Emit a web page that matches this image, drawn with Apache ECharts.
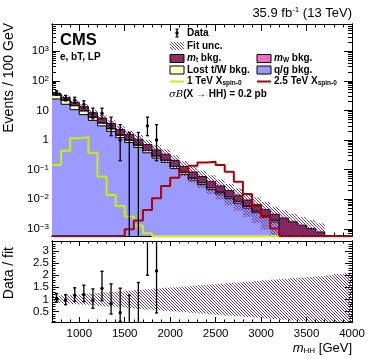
<!DOCTYPE html>
<html>
<head>
<meta charset="utf-8">
<script src="https://cdn.jsdelivr.net/npm/echarts@6/dist/echarts.min.js"></script>
<style>
  html, body { margin: 0; padding: 0; background: #fff; }
  #chart { width: 374px; height: 359px; }
</style>
</head>
<body>
<div id="chart"></div>
<script>
// bin low edges, 100 GeV bins
const binLow = [700, 800, 900, 1000, 1100, 1200, 1300, 1400, 1500, 1600, 1700, 1800, 1900, 2000, 2100, 2200,
  2300, 2400, 2500, 2600, 2700, 2800, 2900, 3000, 3100, 3200, 3300, 3400, 3500, 3600, 3700, 3800, 3900]
const binWidth = 100
const xMin = 700
const xMax = 4000
const xTickLabels = [1000, 1500, 2000, 2500, 3000, 3500, 4000]

// backgrounds (events / bin), stacked in this order
const qgBkg = [24.3, 16.1, 10.6, 7.2, 4.6, 3.0, 1.95, 1.2, 0.82, 0.56, 0.37, 0.245, 0.175, 0.108, 0.068, 0.044,
  0.031, 0.021, 0.015, 0.0104, 0.0073, 0.0050, 0.0035, 0.0024, 0.0017, 0, 0, 0, 0, 0, 0, 0, 0]
const lostBkg = [8.8, 5.9, 3.8, 2.4, 1.25, 0.72, 0.43, 0.25, 0.16, 0.105, 0.067, 0.043, 0.03, 0.018, 0.011, 0.007,
  0.0048, 0.0032, 0.0022, 0.0015, 0.001, 0.0007, 0.00048, 0.00032, 0.00022, 0.00016, 0.00012, 0.0001, 0.00008, 0.00006, 0, 0, 0]
const mwBkg = [0.3, 0.2, 0.14, 0.1, 0.06, 0.04, 0.026, 0.017, 0.011, 0.008, 0.005, 0.0035, 0.0025, 0.0015, 0.001, 0.0006,
  0.0004, 0.0003, 0.0002, 0.00015, 0.0001, 0.00007, 0.00005, 0.00003, 0.00002, 0, 0, 0, 0, 0, 0, 0, 0]
const mtBkg = [3.8, 4.7, 4.26, 3.6, 2.39, 1.74, 1.19, 0.79, 0.54, 0.387, 0.258, 0.168, 0.122, 0.0775, 0.048, 0.0314,
  0.0218, 0.0155, 0.0106, 0.0075, 0.0052, 0.0036, 0.0025, 0.00175, 0.00116, 0.00214, 0.0016, 0.00122, 0.00094, 0.00072, 0, 0, 0]
// relative fit uncertainty
const fitUnc = [0.15, 0.17, 0.2, 0.22, 0.25, 0.28, 0.3, 0.33, 0.36, 0.39, 0.42, 0.45, 0.48, 0.5, 0.53, 0.56,
  0.59, 0.62, 0.65, 0.68, 0.7, 0.73, 0.76, 0.79, 0.82, 0.85, 0.88, 0.9, 0.93, 0.96, 1.0, 1.05, 1.1]

// signals
const sig1TeV = [0.143, 0.435, 1.14, 1.23, 0.37, 0.058, 0.0139, 0.0059, 0.0026, 0.0013, 0.0007, 0, 0, 0, 0, 0,
  0, 0, 0, 0, 0, 0, 0, 0, 0, 0, 0, 0, 0, 0, 0, 0, 0]
const sig25TeV = [0, 0, 0, 0, 0, 0, 0, 0, 0.00096, 0.0019, 0.0043, 0.0108, 0.028, 0.053, 0.087, 0.135,
  0.172, 0.185, 0.143, 0.085, 0.039, 0.015, 0.0059, 0.0025, 0.00103, 0, 0, 0, 0, 0, 0, 0, 0]

// data (first 12 bins)
const dataCounts = [39, 26, 22, 16, 8, 8, 3, 1, 0, 0, 3, 1]
const dataErrUp = [7.3, 6.2, 5.8, 5.1, 3.9, 3.9, 2.9, 2.3, 1.8, 1.8, 2.9, 2.3]
const dataErrDown = [6.2, 5.1, 4.7, 4.0, 2.8, 2.8, 1.6, 0.8, 0, 0, 1.6, 0.8]

const yMajorTicks = [0.001, 0.01, 0.1, 1, 10, 100, 1000]
const yTickLabels = ['10{sup|−3}', '10{sup|−2}', '10{sup|−1}', '1', '10', '10{sup|2}', '10{sup|3}']
const ratioTicks = [0.5, 1, 1.5, 2, 2.5, 3]
const ratioTickLabels = ['0.5', '1', '1.5', '2', '2.5', '3']

const yMinVal = 5.7e-4
const yMaxVal = 8300
const rMin = 0.06
const rMax = 3.42

const FONT = '"Liberation Sans", Arial, Helvetica, sans-serif'
const chart = echarts.init(document.getElementById('chart'))

// hatch pattern for the fit uncertainty
function makeHatch() {
  const c = document.createElement('canvas')
  c.width = 3
  c.height = 3
  const g = c.getContext('2d')
  g.strokeStyle = 'rgba(85, 25, 95, 0.85)'
  g.lineWidth = 1
  g.beginPath()
  g.moveTo(0, 0); g.lineTo(3, 3)
  g.moveTo(-1, 2); g.lineTo(1, 4)
  g.moveTo(2, -1); g.lineTo(4, 1)
  g.stroke()
  return c
}
const hatch = { image: makeHatch(), repeat: 'repeat' }

const floorVal = 1e-7
function stepData(vals, zeroTo) {
  const out = binLow.map((x, i) => [x, vals[i] > 0 ? vals[i] : zeroTo])
  const last = vals[vals.length - 1]
  out.push([xMax, last > 0 ? last : zeroTo])
  return out
}

// cumulative stack (log axis -> stacked by hand, drawn from the top down)
const cumQg = qgBkg.slice()
const cumLost = cumQg.map((v, i) => v + lostBkg[i])
const cumMw = cumLost.map((v, i) => v + mwBkg[i])
const total = cumMw.map((v, i) => v + mtBkg[i])

const bandTop = binLow.map((x, i) => [x, x + binWidth, total[i] * (1 - fitUnc[i]), total[i] * (1 + fitUnc[i])])
  .filter((d, i) => total[i] > 0)
const bandRatio = binLow.map((x, i) => [x, x + binWidth, 1 - fitUnc[i], 1 + fitUnc[i]])

// minor ticks
const xMinor = binLow.concat([xMax])
const yMinor = []
for (let e = -4; e <= 3; e++) {
  for (let k = 2; k <= 9; k++) {
    const v = k * Math.pow(10, e)
    if (v > yMinVal && v < yMaxVal) yMinor.push(v)
  }
}
const rMinor = []
for (let k = 1; k <= 34; k++) rMinor.push(k / 10)

const dataPts = dataCounts.map((n, i) => [binLow[i] + binWidth / 2, n, Math.max(n - dataErrDown[i], yMinVal), n + dataErrUp[i]])
const ratioPts = dataCounts.map((n, i) => [binLow[i] + binWidth / 2, n / total[i],
  Math.max((n - dataErrDown[i]) / total[i], rMin), Math.min((n + dataErrUp[i]) / total[i], rMax)])

function makeErrRender(lo, hi) {
  return function (params, api) {
    const x = api.value(0)
    const y = api.value(1)
    const top = api.coord([x, api.value(3)])
    const bot = api.coord([x, api.value(2)])
    const st = { stroke: '#000', lineWidth: 1.3 }
    const children = [
      { type: 'line', shape: { x1: top[0], y1: top[1], x2: bot[0], y2: bot[1] }, style: st }
    ]
    if (api.value(3) < hi) children.push({ type: 'line', shape: { x1: top[0] - 1.6, y1: top[1], x2: top[0] + 1.6, y2: top[1] }, style: st })
    if (api.value(2) > lo) children.push({ type: 'line', shape: { x1: bot[0] - 1.6, y1: bot[1], x2: bot[0] + 1.6, y2: bot[1] }, style: st })
    if (y > lo && y < hi) {
      const p = api.coord([x, y])
      children.push({ type: 'circle', shape: { cx: p[0], cy: p[1], r: 1.7 }, style: { fill: '#000' } })
    }
    return { type: 'group', children: children }
  }
}

function makeBandRender(lo, hi) {
  return function (params, api) {
    const a = api.coord([api.value(0), Math.min(api.value(3), hi)])
    const b = api.coord([api.value(1), Math.max(api.value(2), lo)])
    return {
      type: 'rect',
      shape: { x: a[0], y: a[1], width: b[0] - a[0], height: b[1] - a[1] },
      style: { fill: hatch }
    }
  }
}

function axisBase(gridIndex, position, type, min, max) {
  return {
    gridIndex: gridIndex, position: position, type: type, min: min, max: max,
    axisLine: { show: true, onZero: false, lineStyle: { color: '#000', width: 1 } },
    splitLine: { show: false },
    axisLabel: { show: false },
    axisTick: { show: false }
  }
}
function tickAxis(gridIndex, position, type, min, max, ticks, len) {
  const a = axisBase(gridIndex, position, type, min, max)
  a.axisTick = { show: true, inside: true, length: len, customValues: ticks, lineStyle: { color: '#000', width: 1 } }
  return a
}

const labelStyle = { color: '#000', fontFamily: FONT, fontSize: 11.5 }

const xAxes = [
  tickAxis(0, 'bottom', 'value', xMin, xMax, xTickLabels, 7),
  tickAxis(0, 'bottom', 'value', xMin, xMax, xMinor, 3.5),
  tickAxis(0, 'top', 'value', xMin, xMax, xTickLabels, 7),
  tickAxis(0, 'top', 'value', xMin, xMax, xMinor, 3.5),
  tickAxis(1, 'bottom', 'value', xMin, xMax, xTickLabels, 5),
  tickAxis(1, 'bottom', 'value', xMin, xMax, xMinor, 2.5),
  tickAxis(1, 'top', 'value', xMin, xMax, xTickLabels, 5),
  tickAxis(1, 'top', 'value', xMin, xMax, xMinor, 2.5)
]
xAxes[4].axisLabel = Object.assign({
  show: true, customValues: xTickLabels, margin: 6,
  formatter: v => String(v)
}, labelStyle)

const yAxes = [
  tickAxis(0, 'left', 'log', yMinVal, yMaxVal, yMajorTicks, 8),
  tickAxis(0, 'left', 'log', yMinVal, yMaxVal, yMinor, 4),
  tickAxis(0, 'right', 'log', yMinVal, yMaxVal, yMajorTicks, 8),
  tickAxis(0, 'right', 'log', yMinVal, yMaxVal, yMinor, 4),
  tickAxis(1, 'left', 'value', rMin, rMax, ratioTicks, 7),
  tickAxis(1, 'left', 'value', rMin, rMax, rMinor, 3.5),
  tickAxis(1, 'right', 'value', rMin, rMax, ratioTicks, 7),
  tickAxis(1, 'right', 'value', rMin, rMax, rMinor, 3.5)
]
for (let i = 0; i < 4; i++) yAxes[i].logBase = 10
yAxes[0].axisLabel = Object.assign({
  show: true, customValues: yMajorTicks, margin: 3,
  formatter: function (v) {
    const i = yMajorTicks.findIndex(t => Math.abs(t - v) / t < 1e-6)
    return i >= 0 ? yTickLabels[i] : ''
  },
  rich: { sup: { fontSize: 8, fontFamily: FONT, verticalAlign: 'top', lineHeight: 10, padding: [0, 0, 5, 0] } }
}, labelStyle)
yAxes[4].axisLabel = Object.assign({
  show: true, customValues: ratioTicks, margin: 3,
  formatter: function (v) {
    const i = ratioTicks.findIndex(t => Math.abs(t - v) < 1e-6)
    return i >= 0 ? ratioTickLabels[i] : ''
  }
}, labelStyle)

function histArea(name, vals, color, z) {
  return {
    name: name, type: 'line', step: 'end', xAxisIndex: 0, yAxisIndex: 0,
    data: stepData(vals, floorVal), showSymbol: false, symbol: 'none',
    lineStyle: { color: '#000', width: 1 },
    areaStyle: { color: color, opacity: 1, origin: 'start' },
    z: z
  }
}

const series = [
  histArea('mt bkg.', total, '#972c63', 2),
  histArea('mW bkg.', cumMw, '#ff66cc', 2),
  histArea('Lost t/W bkg.', cumLost, '#ffffc8', 2),
  histArea('q/g bkg.', cumQg, '#9a9aff', 2),
  {
    name: 'Fit unc.', type: 'custom', xAxisIndex: 0, yAxisIndex: 0,
    renderItem: makeBandRender(yMinVal, yMaxVal), data: bandTop, z: 3
  },
  {
    name: '1 TeV', type: 'line', step: 'end', xAxisIndex: 0, yAxisIndex: 0,
    data: stepData(sig1TeV, yMinVal), showSymbol: false, symbol: 'none',
    lineStyle: { color: '#ccf000', width: 2 }, z: 4
  },
  {
    name: '2.5 TeV', type: 'line', step: 'end', xAxisIndex: 0, yAxisIndex: 0,
    data: stepData(sig25TeV, yMinVal), showSymbol: false, symbol: 'none',
    lineStyle: { color: '#ad0000', width: 2 }, z: 5
  },
  {
    name: 'Data', type: 'custom', xAxisIndex: 0, yAxisIndex: 0,
    renderItem: makeErrRender(yMinVal, yMaxVal), data: dataPts, z: 6
  },
  // ratio panel
  {
    name: 'Fit unc. ratio', type: 'custom', xAxisIndex: 4, yAxisIndex: 4,
    renderItem: makeBandRender(rMin, rMax), data: bandRatio, z: 3
  },
  {
    name: 'Data / fit', type: 'custom', xAxisIndex: 4, yAxisIndex: 4,
    renderItem: makeErrRender(rMin, rMax), data: ratioPts, z: 6
  }
]

const tFont = (w, s) => (w ? 'bold ' : '') + s + 'px ' + FONT
const rowY = [33, 46, 58.5, 70, 81.5, 94]
const c1 = 170, c2 = 257, bw = 14, bh = 8
const legRich = {
  it: { fontStyle: 'italic', fontWeight: 'bold', fontSize: 10, fontFamily: FONT },
  sub: { fontSize: 6.5, fontWeight: 'bold', fontFamily: FONT, verticalAlign: 'bottom', padding: [4, 0, 0, 0] },
  sig: { fontStyle: 'italic', fontSize: 10, fontFamily: 'DejaVu Serif, serif' }
}
function legText(x, y, text) {
  return { type: 'text', x: x, y: y, style: { text: text, font: tFont(true, 10), fill: '#000', textVerticalAlign: 'middle', rich: legRich } }
}
function legBox(x, y, fill) {
  return { type: 'rect', shape: { x: x, y: y - bh / 2, width: bw, height: bh }, style: { fill: fill, stroke: '#000', lineWidth: 1 } }
}

const graphics = [
  { type: 'text', x: 352, y: 13, style: { text: '35.9 fb{sup|-1} (13 TeV)', font: tFont(false, 13), fill: '#000', textAlign: 'right', textVerticalAlign: 'middle',
    rich: { sup: { fontSize: 8, fontFamily: FONT, verticalAlign: 'top', padding: [0, 0, 6, 0] } } } },
  { type: 'text', x: 60, y: 40, style: { text: 'CMS', font: tFont(true, 16.5), fill: '#000', textVerticalAlign: 'middle' } },
  { type: 'text', x: 60, y: 57, style: { text: 'e, bT, LP', font: tFont(true, 10), fill: '#000', textVerticalAlign: 'middle' } },
  { type: 'text', x: 9.5, y: 23, rotation: Math.PI / 2, style: { text: 'Events / 100 GeV', font: tFont(false, 14), fill: '#000', textAlign: 'right', textVerticalAlign: 'middle' } },
  { type: 'text', x: 9.5, y: 247, rotation: Math.PI / 2, style: { text: 'Data / fit', font: tFont(false, 14), fill: '#000', textAlign: 'right', textVerticalAlign: 'middle' } },
  { type: 'text', x: 352, y: 348, style: { text: '{it|m}{sub|HH} [GeV]', font: tFont(false, 13), fill: '#000', textAlign: 'right', textVerticalAlign: 'middle',
    rich: { it: { fontStyle: 'italic', fontSize: 13, fontFamily: FONT }, sub: { fontSize: 8, fontFamily: FONT, verticalAlign: 'bottom', padding: [6, 0, 0, 0] } } } },
  // legend
  { type: 'line', shape: { x1: c1 + bw / 2, y1: rowY[0] - 4, x2: c1 + bw / 2, y2: rowY[0] + 4 }, style: { stroke: '#000', lineWidth: 1.3 } },
  { type: 'line', shape: { x1: c1 + bw / 2 - 1.6, y1: rowY[0] - 4, x2: c1 + bw / 2 + 1.6, y2: rowY[0] - 4 }, style: { stroke: '#000', lineWidth: 1 } },
  { type: 'line', shape: { x1: c1 + bw / 2 - 1.6, y1: rowY[0] + 4, x2: c1 + bw / 2 + 1.6, y2: rowY[0] + 4 }, style: { stroke: '#000', lineWidth: 1 } },
  { type: 'circle', shape: { cx: c1 + bw / 2, cy: rowY[0], r: 1.7 }, style: { fill: '#000' } },
  legText(c1 + bw + 3, rowY[0], 'Data'),
  { type: 'rect', shape: { x: c1, y: rowY[1] - bh / 2, width: bw, height: bh }, style: { fill: hatch } },
  legText(c1 + bw + 3, rowY[1], 'Fit unc.'),
  legBox(c1, rowY[2], '#972c63'),
  legText(c1 + bw + 3, rowY[2], '{it|m}{sub|t} bkg.'),
  legBox(c2, rowY[2], '#ff66cc'),
  legText(c2 + bw + 3, rowY[2], '{it|m}{sub|W} bkg.'),
  legBox(c1, rowY[3], '#ffffc8'),
  legText(c1 + bw + 3, rowY[3], 'Lost t/W bkg.'),
  legBox(c2, rowY[3], '#9a9aff'),
  legText(c2 + bw + 3, rowY[3], 'q/g bkg.'),
  { type: 'line', shape: { x1: c1, y1: rowY[4], x2: c1 + bw, y2: rowY[4] }, style: { stroke: '#ccf000', lineWidth: 2 } },
  legText(c1 + bw + 3, rowY[4], '1 TeV X{sub|spin-0}'),
  { type: 'line', shape: { x1: c2, y1: rowY[4], x2: c2 + bw, y2: rowY[4] }, style: { stroke: '#ad0000', lineWidth: 2 } },
  legText(c2 + bw + 3, rowY[4], '2.5 TeV X{sub|spin-0}'),
  legText(c1 - 1, rowY[5], '{sig|σB}(X \u2192 HH) = 0.2 pb')
]

const option = {
  animation: false,
  backgroundColor: '#fff',
  grid: [
    { left: 52, top: 24, width: 300, height: 212 },
    { left: 52, top: 241, width: 300, height: 81 }
  ],
  xAxis: xAxes,
  yAxis: yAxes,
  series: series,
  graphic: { elements: graphics }
}
chart.setOption(option)
</script>
</body>
</html>
